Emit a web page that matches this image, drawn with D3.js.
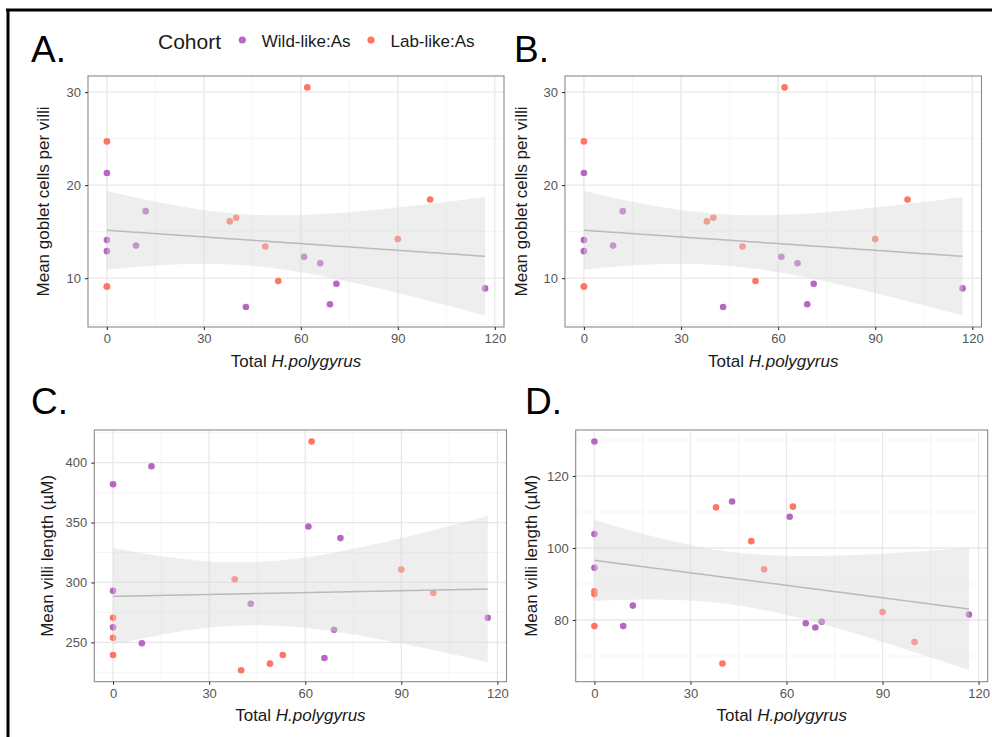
<!DOCTYPE html>
<html>
<head>
<meta charset="utf-8">
<script src="https://cdn.jsdelivr.net/npm/d3@7"></script>
<style>
  html, body { margin: 0; padding: 0; background: #fff; }
  svg { display: block; font-family: "Liberation Sans", Arial, Helvetica, sans-serif; }
</style>
</head>
<body>
<svg id="fig" width="992" height="737"></svg>
<script>
// ---- Goblet-cell counts (panels A and B); two mice share (0, 9.1) ----
const gobletWorms  = [62, 0, 0, 12, 38, 40, 0, 0, 9, 49, 90, 100, 61, 66, 53, 0, 0, 71, 117, 43, 69];
const gobletValues = [30.5, 24.7, 21.3, 17.2, 16.1, 16.5, 14.1, 12.9, 13.5, 13.4, 14.2, 18.45, 12.3, 11.6, 9.7, 9.1, 9.1, 9.4, 8.9, 6.9, 7.2];
const gobletCohort = ["Lab", "Lab", "Wild", "Wild", "Lab", "Lab", "Wild", "Wild", "Wild", "Lab",
                      "Lab", "Lab", "Wild", "Wild", "Lab", "Lab", "Lab", "Wild", "Wild", "Wild", "Wild"];

// ---- Villi length measurements (panels C and D) ----
const villiWorms   = [62, 90, 38, 100, 0, 0, 0, 53, 49, 40, 12, 0, 61, 71, 0, 43, 0, 117, 69, 9, 66];
const villiCohort  = ["Lab", "Lab", "Lab", "Lab", "Lab", "Lab", "Lab", "Lab", "Lab", "Lab",
                      "Wild", "Wild", "Wild", "Wild", "Wild", "Wild", "Wild", "Wild", "Wild", "Wild", "Wild"];
const villiLengthC = [417.7, 310.8, 302.7, 291.3, 270.5, 253.8, 239.4, 239.4, 232.2, 226.7,
                      397, 382, 346.7, 337, 293, 282.2, 262.5, 270.5, 260.5, 249.2, 236.9];
const villiLengthD = [111.5, 82.2, 111.3, 73.9, 88, 87.2, 78.3, 94.1, 101.9, 67.9,
                      84, 129.6, 108.7, 79.5, 103.9, 112.9, 94.5, 81.5, 77.9, 78.3, 79.1];

// ---- Axis ticks ----
const xTicks       = [0, 30, 60, 90, 120];
const gobletTicks  = [10, 20, 30];
const lengthCTicks = [250, 300, 350, 400];
const lengthDTicks = [80, 100, 120];

// ---- Legend ----
const cohortKeys   = ["Wild", "Lab"];
const cohortLabels = ["Wild-like:As", "Lab-like:As"];
const cohortColors = { Wild: "#b866c3", Lab: "#ff7562" };

const svg = d3.select("#fig");

// figure frame
svg.append("line").attr("x1", 6).attr("x2", 992).attr("y1", 10).attr("y2", 10)
  .attr("stroke", "#000").attr("stroke-width", 3);
svg.append("line").attr("x1", 8).attr("x2", 8).attr("y1", 9).attr("y2", 737)
  .attr("stroke", "#000").attr("stroke-width", 3);

// two-sided 97.5% t quantiles for the confidence band
const tq = { 17: 2.1098, 18: 2.1009, 19: 2.0930, 20: 2.0860, 21: 2.0796 };

function linearFit(xs, ys) {
  const n = xs.length;
  const mx = d3.mean(xs), my = d3.mean(ys);
  let sxx = 0, sxy = 0;
  xs.forEach((x, i) => { sxx += (x - mx) ** 2; sxy += (x - mx) * (ys[i] - my); });
  const b = sxy / sxx, a = my - b * mx;
  let sse = 0;
  xs.forEach((x, i) => { sse += (ys[i] - a - b * x) ** 2; });
  const s = Math.sqrt(sse / (n - 2));
  const t = tq[n - 2];
  return d3.range(0, 81).map(k => {
    const x = d3.min(xs) + (d3.max(xs) - d3.min(xs)) * k / 80;
    const fit = a + b * x;
    const se = s * Math.sqrt(1 / n + (x - mx) ** 2 / sxx);
    return { x, fit, lo: fit - t * se, hi: fit + t * se };
  });
}

function panel(cfg) {
  const { left, top, right, bottom, xs, ys, cohorts, yTicks, yTitle, yTitleX, tag, tagX, tagY } = cfg;
  const band = linearFit(xs, ys);

  const xr = d3.extent(xs);
  const xpad = (xr[1] - xr[0]) * 0.05;
  const x = d3.scaleLinear().domain([xr[0] - xpad, xr[1] + xpad]).range([left, right]);

  const ylo = Math.min(d3.min(ys), d3.min(band, d => d.lo));
  const yhi = Math.max(d3.max(ys), d3.max(band, d => d.hi));
  const ypad = (yhi - ylo) * 0.05;
  const y = d3.scaleLinear().domain([ylo - ypad, yhi + ypad]).range([bottom, top]);

  const g = svg.append("g");
  g.append("rect").attr("x", left).attr("y", top).attr("width", right - left).attr("height", bottom - top)
    .attr("fill", "#fff");

  // minor grid halfway between major ticks
  const minors = (ticks, dom) => {
    const step = ticks[1] - ticks[0];
    return d3.range(0, ticks.length + 1).map(i => ticks[0] - step / 2 + i * step)
      .filter(v => v > dom[0] && v < dom[1]);
  };
  g.selectAll(".xmin").data(minors(xTicks, x.domain())).enter().append("line")
    .attr("x1", d => x(d)).attr("x2", d => x(d)).attr("y1", top).attr("y2", bottom)
    .attr("stroke", "#f2f2f2").attr("stroke-width", 0.8);
  g.selectAll(".ymin").data(minors(yTicks, y.domain())).enter().append("line")
    .attr("y1", d => y(d)).attr("y2", d => y(d)).attr("x1", left).attr("x2", right)
    .attr("stroke", "#f2f2f2").attr("stroke-width", 0.8);
  // major grid
  g.selectAll(".xmaj").data(xTicks).enter().append("line")
    .attr("x1", d => x(d)).attr("x2", d => x(d)).attr("y1", top).attr("y2", bottom)
    .attr("stroke", "#e8e8e8").attr("stroke-width", 1.3);
  g.selectAll(".ymaj").data(yTicks).enter().append("line")
    .attr("y1", d => y(d)).attr("y2", d => y(d)).attr("x1", left).attr("x2", right)
    .attr("stroke", "#e8e8e8").attr("stroke-width", 1.3);

  // points
  g.selectAll(".pt").data(xs.map((v, i) => ({ x: v, y: ys[i], c: cohorts[i] }))).enter().append("circle")
    .attr("cx", d => x(d.x)).attr("cy", d => y(d.y)).attr("r", 3.3)
    .attr("fill", d => cohortColors[d.c]);

  // confidence band and fitted line
  g.append("path").datum(band)
    .attr("d", d3.area().x(d => x(d.x)).y0(d => y(d.lo)).y1(d => y(d.hi)))
    .attr("fill", "#d6d6d6").attr("fill-opacity", 0.42);
  g.append("path").datum(band)
    .attr("d", d3.line().x(d => x(d.x)).y(d => y(d.fit)))
    .attr("fill", "none").attr("stroke", "#bababa").attr("stroke-width", 1.5);

  // panel border
  g.append("rect").attr("x", left).attr("y", top).attr("width", right - left).attr("height", bottom - top)
    .attr("fill", "none").attr("stroke", "#8a8a8a").attr("stroke-width", 1.1);

  // axes
  const xAxis = g.append("g").attr("transform", `translate(0,${bottom})`)
    .call(d3.axisBottom(x).tickValues(xTicks).tickSize(3).tickPadding(4).tickFormat(d3.format("d")));
  const yAxis = g.append("g").attr("transform", `translate(${left},0)`)
    .call(d3.axisLeft(y).tickValues(yTicks).tickSize(3).tickPadding(4).tickFormat(d3.format("d")));
  [xAxis, yAxis].forEach(a => {
    a.select(".domain").remove();
    a.selectAll(".tick line").attr("stroke", "#333").attr("stroke-width", 1.1);
    a.selectAll(".tick text").attr("fill", "#555").attr("font-size", 13)
      .attr("font-family", "'Liberation Sans', Arial, sans-serif");
  });

  // axis titles
  const xt = g.append("text").attr("x", (left + right) / 2).attr("y", bottom + 39.5)
    .attr("text-anchor", "middle").attr("font-size", 17).attr("fill", "#1a1a1a");
  xt.append("tspan").text("Total ");
  xt.append("tspan").attr("font-style", "italic").text("H.polygyrus");

  g.append("text").attr("transform", `translate(${yTitleX},${(top + bottom) / 2}) rotate(-90)`)
    .attr("text-anchor", "middle").attr("dominant-baseline", "central")
    .attr("font-size", 17).attr("fill", "#1a1a1a").text(yTitle);

  // panel tag
  svg.append("text").attr("x", tagX).attr("y", tagY).attr("font-size", 37).attr("fill", "#000").text(tag);
}

panel({ left: 88, top: 76, right: 504, bottom: 327, xs: gobletWorms, ys: gobletValues, cohorts: gobletCohort,
        yTicks: gobletTicks, yTitle: "Mean goblet cells per villi", yTitleX: 43, tag: "A.", tagX: 31, tagY: 62 });
panel({ left: 565, top: 76, right: 981.5, bottom: 327, xs: gobletWorms, ys: gobletValues, cohorts: gobletCohort,
        yTicks: gobletTicks, yTitle: "Mean goblet cells per villi", yTitleX: 521, tag: "B.", tagX: 514, tagY: 62 });
panel({ left: 94.3, top: 430, right: 506.5, bottom: 681.7, xs: villiWorms, ys: villiLengthC, cohorts: villiCohort,
        yTicks: lengthCTicks, yTitle: "Mean villi length (\u00b5M)", yTitleX: 47, tag: "C.", tagX: 31, tagY: 414 });
panel({ left: 575.7, top: 430, right: 987.7, bottom: 681.7, xs: villiWorms, ys: villiLengthD, cohorts: villiCohort,
        yTicks: lengthDTicks, yTitle: "Mean villi length (\u00b5M)", yTitleX: 531, tag: "D.", tagX: 525, tagY: 414 });

// legend
const lg = svg.append("g");
lg.append("text").attr("x", 158).attr("y", 48.5).attr("font-size", 21).attr("fill", "#1a1a1a").text("Cohort");
const legendX = [242.3, 371];
cohortKeys.forEach((k, i) => {
  lg.append("circle").attr("cx", legendX[i]).attr("cy", 40).attr("r", 3.6).attr("fill", cohortColors[k]);
  lg.append("text").attr("x", legendX[i] + 19.5).attr("y", 47.3).attr("font-size", 17)
    .attr("fill", "#1a1a1a").text(cohortLabels[i]);
});
</script>
</body>
</html>
